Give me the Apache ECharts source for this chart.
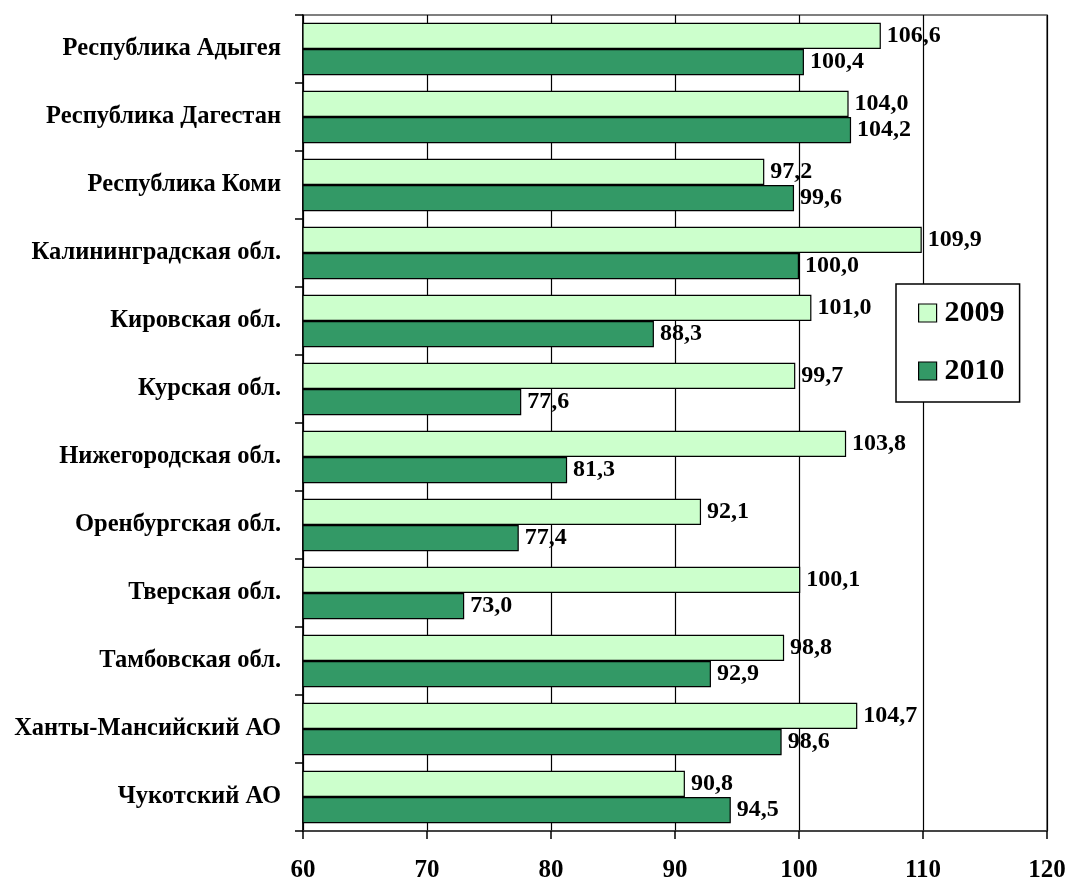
<!DOCTYPE html>
<html><head><meta charset="utf-8">
<script src="https://cdn.jsdelivr.net/npm/echarts@6/dist/echarts.min.js"></script>
<style>html,body{margin:0;padding:0;background:#fff}#c{width:1070px;height:881px}</style>
</head><body><div id="c"></div>
<script>
const categories = ["Республика Адыгея","Республика Дагестан","Республика Коми","Калининградская обл.","Кировская обл.","Курская обл.","Нижегородская обл.","Оренбургская обл.","Тверская обл.","Тамбовская обл.","Ханты-Мансийский АО","Чукотский АО"];
const values2009 = [106.6,104.0,97.2,109.9,101.0,99.7,103.8,92.1,100.1,98.8,104.7,90.8];
const values2010 = [100.4,104.2,99.6,100.0,88.3,77.6,81.3,77.4,73.0,92.9,98.6,94.5];
const seriesNames = ["2009","2010"];
const font = "'Liberation Serif','Times New Roman',serif";
const fmt = p => p.value.toFixed(1).replace('.', ',');
const chart = echarts.init(document.getElementById('c'));
chart.setOption({
  animation:false,
  grid:{left:303,right:23,top:15,bottom:50,show:true,borderColor:'#555',borderWidth:1.5,outerBoundsMode:'none',containLabel:false},
  legend:{
    orient:'vertical', left:896, top:284,
    data:seriesNames,
    backgroundColor:'#fff', borderColor:'#000', borderWidth:1.5,
    padding:[14,15,16,22], itemGap:28, itemWidth:18, itemHeight:18,
    textStyle:{fontFamily:font,fontWeight:'bold',fontSize:30,lineHeight:30,color:'#000',padding:[0,0,0,3]},
    icon:'rect',
    itemStyle:{borderColor:'#000',borderWidth:1.2}
  },
  xAxis:{type:'value',min:60,max:120,interval:10,
    axisLine:{show:true,lineStyle:{color:'#333',width:1.5}},
    axisTick:{show:true,length:8,lineStyle:{color:'#000',width:1.5}},
    splitLine:{show:true,lineStyle:{color:'#000',width:1.2}},
    axisLabel:{fontFamily:font,fontWeight:'bold',fontSize:25,color:'#000',margin:27}
  },
  yAxis:{type:'category',inverse:true,data:categories,
    axisLine:{show:true,lineStyle:{color:'#000',width:1.5}},
    axisTick:{show:true,length:8,lineStyle:{color:'#000',width:1.5}},
    axisLabel:{fontFamily:font,fontWeight:'bold',fontSize:24.5,color:'#000',margin:22}
  },
  series:[
    {name:seriesNames[0],type:'bar',data:values2009,barGap:'0%',barCategoryGap:'23%',
     itemStyle:{color:'#CCFFCC',borderColor:'#000',borderWidth:1.2},
     label:{show:true,position:'right',distance:6,formatter:fmt,fontFamily:font,fontWeight:'bold',fontSize:24,color:'#000'}},
    {name:seriesNames[1],type:'bar',data:values2010,barGap:'0%',barCategoryGap:'23%',
     itemStyle:{color:'#339966',borderColor:'#000',borderWidth:1.2},
     label:{show:true,position:'right',distance:6,formatter:fmt,fontFamily:font,fontWeight:'bold',fontSize:24,color:'#000'}}
  ]
});
</script></body></html>
